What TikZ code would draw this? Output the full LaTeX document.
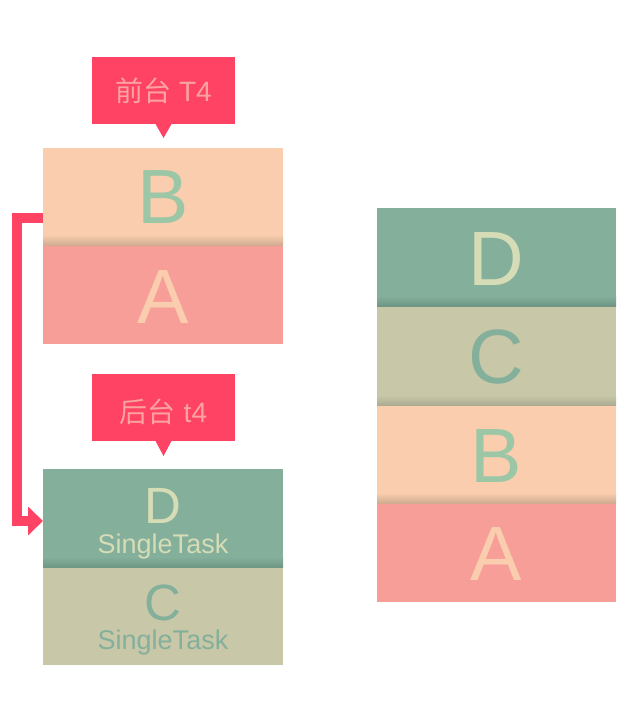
\documentclass[tikz,border=0pt]{standalone}
\usepackage{fontspec}
\setmainfont{Liberation Sans}
\newfontfamily\cjk{Noto Sans CJK SC}
\usetikzlibrary{arrows.meta}
\definecolor{cred}{HTML}{FE4365}
\definecolor{cpink}{HTML}{F89E98}
\definecolor{cpinktxt}{HTML}{FCA3A0}
\definecolor{cpeach}{HTML}{F9CDAD}
\definecolor{ckhaki}{HTML}{C8C8A9}
\definecolor{cgreen}{HTML}{83AF9B}
\definecolor{cgreentxt}{HTML}{9BC7A6}
\definecolor{clighttxt}{HTML}{D6DCB6}
\tikzset{
  blk/.style={inner sep=0pt, outer sep=0pt, minimum width=240pt},
  txt/.style={anchor=base, inner sep=0pt, outer sep=0pt},
  bigl/.style={txt, font=\fontsize{77}{77}\selectfont},
  midl/.style={txt, font=\fontsize{51}{51}\selectfont},
  smalll/.style={txt, font=\fontsize{27}{27}\selectfont},
  callout/.style={fill=cred, inner sep=0pt, outer sep=0pt, minimum width=143pt, minimum height=67pt},
  calltxt/.style={txt, text=cpinktxt, font=\fontsize{28}{28}\selectfont},
  link/.style={draw=cred, line width=10pt},
}
\begin{document}
\begin{tikzpicture}[x=1pt,y=-1pt]
\useasboundingbox (0,0) rectangle (640,711);
% ---------- left top stack
\node[blk, fill=cpink, minimum height=99pt] (A1) at (163,294.5) {};
\node[blk, fill=cpeach, minimum height=97pt] (B1) at (163,196.5) {};
\shade[top color=cpeach, bottom color=cpeach!84!black] (43,235) rectangle (283,245);
\node[bigl, text=cgreentxt] (B1t) at (163,223) {B};
\node[bigl, text=cpeach] (A1t) at (163,323) {A};
% callout 1
\node[callout] (L1) at (163.5,90.5) {};
\fill[cred] ([xshift=-8pt]L1.south) -- ([xshift=8pt]L1.south) -- ([yshift=-14pt]L1.south) -- cycle;
\node[calltxt] (L1t) at (163.5,102) {{\cjk 前台} T4};
% ---------- left bottom stack
\node[blk, fill=ckhaki, minimum height=98pt] (C1) at (163,616) {};
\node[blk, fill=cgreen, minimum height=98pt] (D1) at (163,518) {};
\shade[top color=cgreen, bottom color=cgreen!86!black] (43,557) rectangle (283,567);
\node[midl, text=clighttxt] (D1t) at (163,523) {D};
\node[smalll, text=clighttxt] (D1s) at (163,553) {SingleTask};
\node[midl, text=cgreen] (C1t) at (163,620) {C};
\node[smalll, text=cgreen] (C1s) at (163,649) {SingleTask};
% callout 2
\node[callout] (L2) at (163.5,407.5) {};
\fill[cred] ([xshift=-8pt]L2.south) -- ([xshift=8pt]L2.south) -- ([yshift=-15pt]L2.south) -- cycle;
\node[calltxt] (L2t) at (163.5,422) {{\cjk 后台} t4};
% ---------- arrow
\draw[link, -{Triangle[width=28pt,length=15pt]}] ([yshift=-21.5pt]B1.west) -| (17,521) -- ([yshift=-3pt]D1.west);
% ---------- right stack
\node[blk, minimum width=239pt, fill=cpink, minimum height=99pt] (A2) at (496.5,552.5) {};
\node[blk, minimum width=239pt, fill=cpeach, minimum height=98pt] (B2) at (496.5,454) {};
\node[blk, minimum width=239pt, fill=ckhaki, minimum height=99pt] (C2) at (496.5,355.5) {};
\node[blk, minimum width=239pt, fill=cgreen, minimum height=98pt] (D2) at (496.5,257) {};
\shade[top color=cgreen, bottom color=cgreen!86!black] (377,296) rectangle (616,306);
\shade[top color=ckhaki, bottom color=ckhaki!86!black] (377,395) rectangle (616,405);
\shade[top color=cpeach, bottom color=cpeach!84!black] (377,493) rectangle (616,503);
\node[bigl, text=clighttxt] (D2t) at (496.5,285) {D};
\node[bigl, text=cgreen] (C2t) at (496.5,383) {C};
\node[bigl, text=cgreentxt] (B2t) at (496.5,482) {B};
\node[bigl, text=cpeach] (A2t) at (496.5,580) {A};
\end{tikzpicture}
\end{document}
